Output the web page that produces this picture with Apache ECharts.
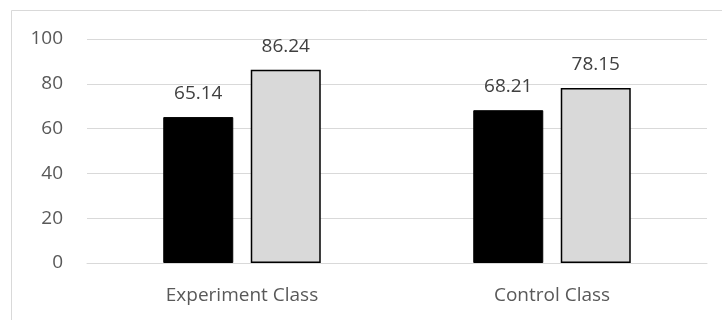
<!DOCTYPE html>
<html>
<head>
<meta charset="utf-8">
<script src="https://cdn.jsdelivr.net/npm/echarts@6/dist/echarts.min.js"></script>
<style>
  html, body { margin: 0; padding: 0; background: #fff; }
  #chart { width: 722px; height: 320px; }
</style>
</head>
<body>
<div id="chart"></div>
<script>
// categories and values
const categories = ['Experiment Class', 'Control Class'];
const firstValues = [65.14, 68.21];   // black bars
const secondValues = [86.24, 78.15];  // light grey bars
const yTicks = { min: 0, max: 100, interval: 20 };

const fontName = '"Open Sans", "Liberation Sans", sans-serif';
const textColor = '#595959';

let chart = echarts.init(document.getElementById('chart'), null, { renderer: 'canvas' });

// label above each bar
function valueLabel() {
  return {
    show: true,
    position: 'top',
    distance: 14,
    color: '#404040',
    fontSize: 19,
    fontFamily: fontName,
    formatter: p => p.value.toFixed(2)
  };
}

let option = {
  animation: false,
  backgroundColor: '#fff',
  // outer chart frame, like the office chart border
  graphic: [{
    type: 'rect',
    shape: { x: 11.5, y: 10.5, width: 760, height: 360 },
    style: { fill: 'none', stroke: '#d9d9d9', lineWidth: 1 },
    silent: true
  }],
  grid: { left: 87, right: 15, top: 39, bottom: 57 },
  xAxis: {
    type: 'category',
    data: categories,
    axisLine: { show: true, lineStyle: { color: '#d9d9d9', width: 1 } },
    axisTick: { show: false },
    axisLabel: { color: textColor, fontSize: 19, fontFamily: fontName, margin: 23 }
  },
  yAxis: {
    type: 'value',
    min: yTicks.min,
    max: yTicks.max,
    interval: yTicks.interval,
    axisLine: { show: false },
    axisTick: { show: false },
    axisLabel: { color: textColor, fontSize: 19, fontFamily: fontName, margin: 24 },
    splitLine: { lineStyle: { color: '#d9d9d9', width: 1 } }
  },
  series: [
    {
      name: 'Series 1',
      type: 'bar',
      data: firstValues,
      barWidth: 70,
      barGap: '25%',
      itemStyle: { color: '#000', borderColor: '#000', borderWidth: 1 },
      label: valueLabel()
    },
    {
      name: 'Series 2',
      type: 'bar',
      data: secondValues,
      barWidth: 70,
      itemStyle: { color: '#d9d9d9', borderColor: '#000', borderWidth: 1.5 },
      label: valueLabel()
    }
  ]
};

chart.setOption(option);
</script>
</body>
</html>
